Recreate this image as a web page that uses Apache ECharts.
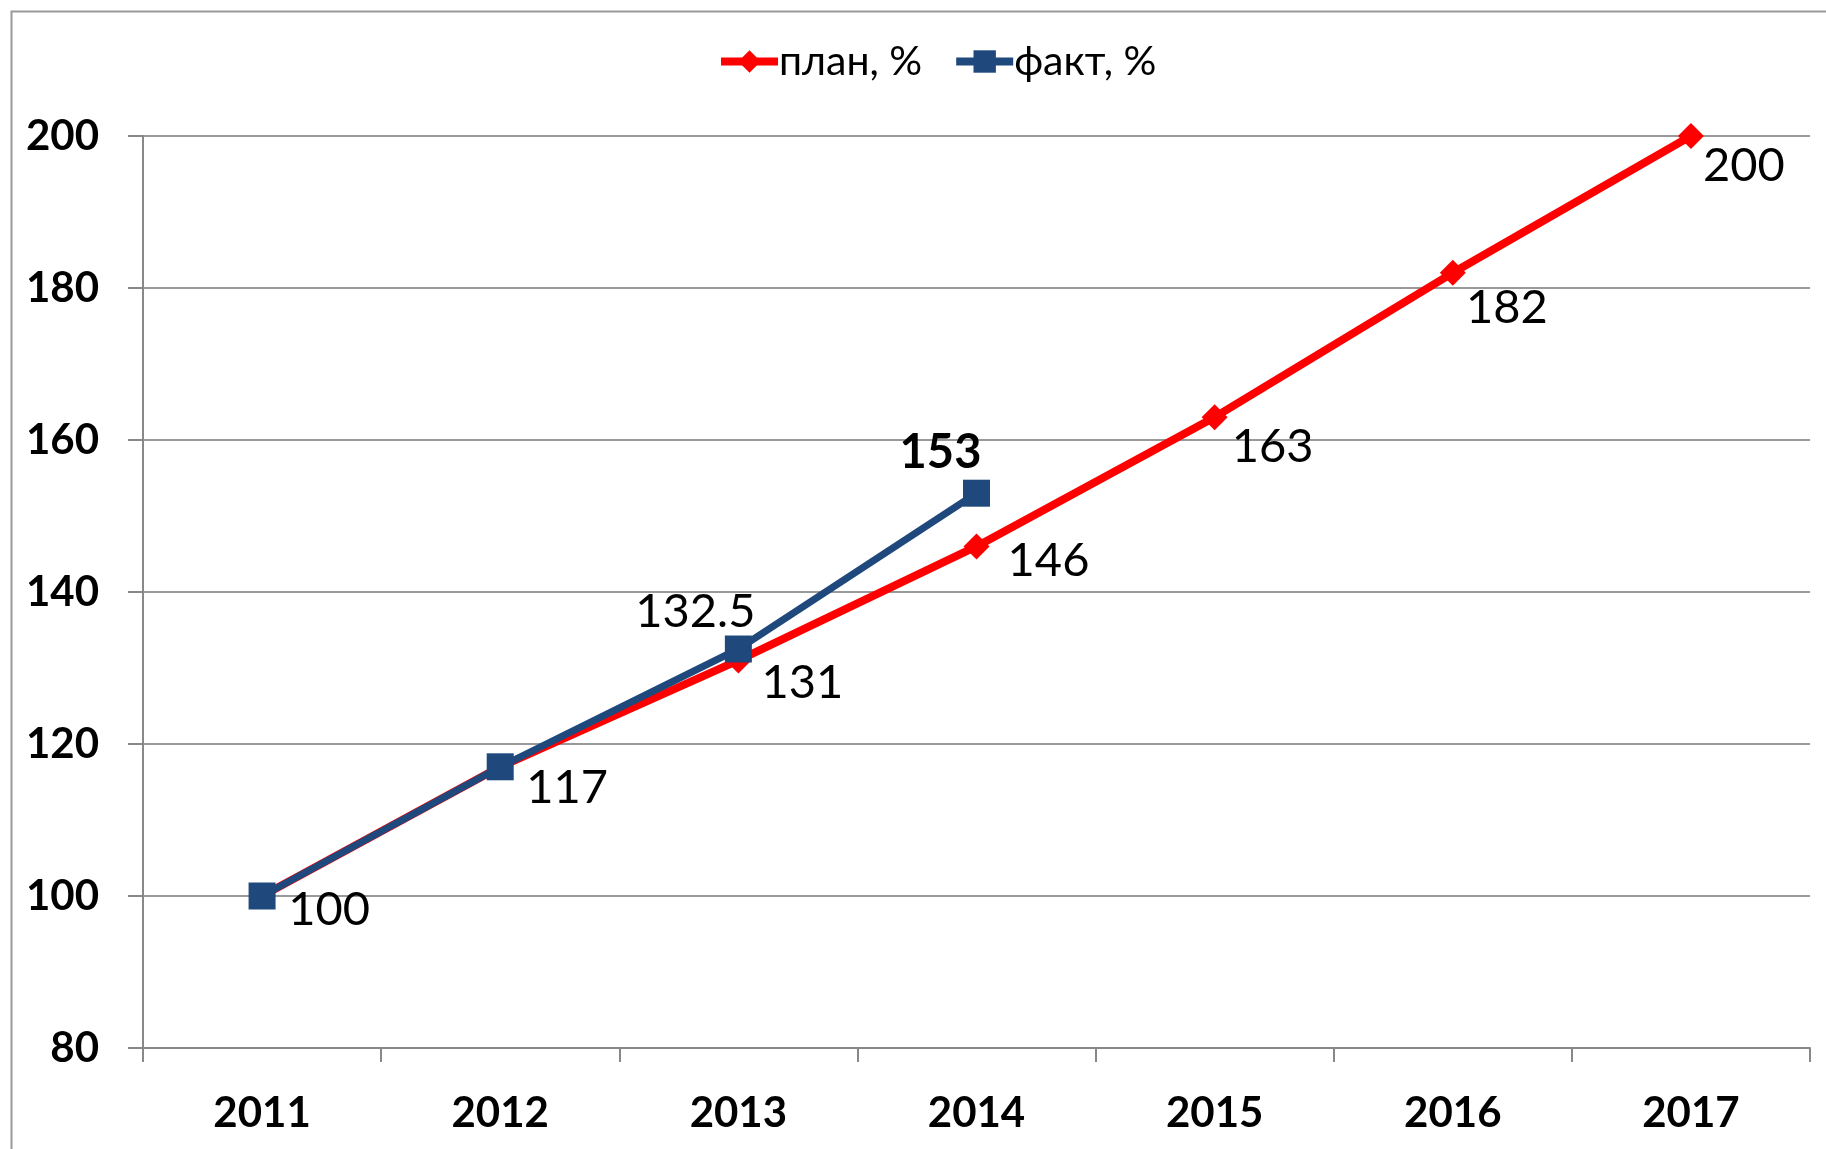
<!DOCTYPE html>
<html>
<head>
<meta charset="utf-8">
<script src="https://cdn.jsdelivr.net/npm/echarts@6/dist/echarts.min.js"></script>
<style>html,body{margin:0;padding:0;background:#fff;}#c{width:1826px;height:1149px;}</style>
</head>
<body>
<div id="c"></div>
<script>
const years = ['2011','2012','2013','2014','2015','2016','2017'];
const planValues = [100, 117, 131, 146, 163, 182, 200];
const factValues = [100, 117, 132.5, 153, null, null, null];
const seriesNames = ['план, %', 'факт, %'];

// label placement (layout only)
const planLabelOffsets = [[67,14],[67,21],[64,22],[72,14],[58,30],[54,35],[53,30]];
const factLabelOffsets = [null, null, [-43,-37], [-36,-40], null, null, null];
const factLabelBold = [false, false, false, true, false, false, false];

const FONT = 'Lato, "Open Sans", sans-serif';

const planData = planValues.map((v, i) => ({
  value: v,
  label: { show: true, position: 'inside', offset: planLabelOffsets[i] }
}));
const factData = factValues.map((v, i) => ({
  value: v,
  label: factLabelOffsets[i]
    ? { show: true, position: 'inside', offset: factLabelOffsets[i], fontWeight: factLabelBold[i] ? 'bold' : 'normal' }
    : { show: false }
}));

const chart = echarts.init(document.getElementById('c'), null, { renderer: 'canvas' });
chart.setOption({
  backgroundColor: '#fff',
  animation: false,
  graphic: [{
    type: 'rect', left: 9, top: 9, silent: true,
    shape: { width: 1900, height: 1900 },
    style: { fill: 'none', stroke: '#999', lineWidth: 2 }
  }],
  legend: {
    top: 36,
    left: 712,
    itemWidth: 57,
    itemHeight: 28,
    itemGap: 30,
    lineStyle: { width: 8 },
    textStyle: { fontFamily: FONT, fontSize: 41, color: '#000', padding: [0,0,0,-4] },
    data: [
      { name: seriesNames[0], lineStyle: { width: 8 } },
      { name: seriesNames[1], lineStyle: { width: 8 } }
    ]
  },
  grid: { left: 143, right: 16, top: 136, bottom: 101 },
  xAxis: {
    type: 'category',
    data: years,
    boundaryGap: true,
    axisLine: { lineStyle: { color: '#888', width: 2 } },
    axisTick: { show: true, length: 14, lineStyle: { color: '#888', width: 2 } },
    axisLabel: { fontFamily: FONT, fontSize: 42, fontWeight: 'bold', color: '#000', margin: 44 }
  },
  yAxis: {
    type: 'value',
    min: 80, max: 200, interval: 20,
    axisLine: { show: true, lineStyle: { color: '#888', width: 2 } },
    axisTick: { show: true, length: 15, lineStyle: { color: '#888', width: 2 } },
    splitLine: { lineStyle: { color: '#999', width: 2 } },
    axisLabel: { fontFamily: FONT, fontSize: 42, fontWeight: 'bold', color: '#000', margin: 44 }
  },
  series: [
    {
      name: seriesNames[0],
      type: 'line',
      data: planData,
      symbol: 'diamond',
      symbolSize: 26,
      color: '#FF0000',
      lineStyle: { color: '#FF0000', width: 8 },
      itemStyle: { color: '#FF0000' },
      label: { fontFamily: FONT, fontSize: 47, color: '#000' },
      z: 2
    },
    {
      name: seriesNames[1],
      type: 'line',
      data: factData,
      symbol: 'rect',
      symbolSize: 27,
      color: '#1F497D',
      lineStyle: { color: '#1F497D', width: 7 },
      itemStyle: { color: '#1F497D' },
      label: { fontFamily: FONT, fontSize: 47, color: '#000' },
      z: 3
    }
  ]
});
</script>
</body>
</html>
